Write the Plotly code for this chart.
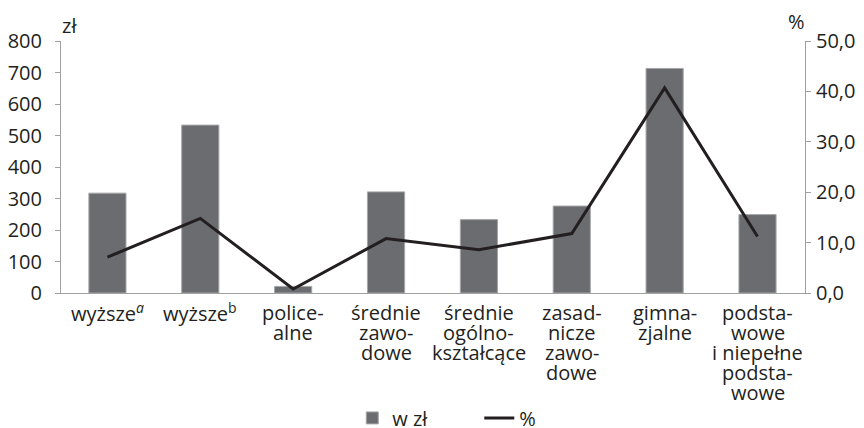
import plotly.graph_objects as go

categories = ["wyższe a", "wyższe b", "policealne", "średnie zawodowe",
              "średnie ogólnokształcące", "zasadnicze zawodowe", "gimnazjalne",
              "podstawowe i niepełne podstawowe"]
category_labels = [
    ["wyższe<sup><i>a</i></sup>"],
    ["wyższe<sup>b</sup>"],
    ["police-", "alne"],
    ["średnie", "zawo-", "dowe"],
    ["średnie", "ogólno-", "kształcące"],
    ["zasad-", "nicze", "zawo-", "dowe"],
    ["gimna-", "zjalne"],
    ["podsta-", "wowe", "i niepełne", "podsta-", "wowe"],
]
values_zl = [317, 533, 21, 321, 233, 276, 713, 249]
values_pct = [7.1, 14.8, 0.8, 10.8, 8.6, 11.8, 40.7, 11.2]

FONT = "Open Sans"
TXT = "#231f20"
AX = "#a0a0a0"

fig = go.Figure()
fig.add_trace(go.Bar(
    x=categories, y=values_zl, name="w zł",
    marker=dict(color="#6b6c70", line=dict(color="#a6a6a8", width=1)),
    width=0.4, yaxis="y",
))
fig.add_trace(go.Scatter(
    x=categories, y=values_pct, name="%", mode="lines",
    line=dict(color=TXT, width=3), yaxis="y2",
))

annotations = []
for cat, lines in zip(categories, category_labels):
    for i, ln in enumerate(lines):
        annotations.append(dict(
            text=ln, x=cat, xref="x", y=0, yref="paper",
            xanchor="center", yanchor="middle", yshift=-(19 + 20 * i),
            showarrow=False, font=dict(size=20, color=TXT),
        ))
annotations.append(dict(text="zł", xref="paper", yref="paper", x=0, y=1,
                        xanchor="left", yanchor="middle", yshift=16, xshift=-1,
                        showarrow=False, font=dict(size=20, color=TXT)))
annotations.append(dict(text="%", xref="paper", yref="paper", x=1, y=1,
                        xanchor="right", yanchor="middle", yshift=20, xshift=2,
                        showarrow=False, font=dict(size=20, color=TXT)))

# the page adds an 8px body margin, so the figure is sized to the visible area
fig.update_layout(
    width=856, height=420,
    margin=dict(l=53, r=59, t=33, b=135, autoexpand=False),
    paper_bgcolor="white", plot_bgcolor="white",
    separators=", ",
    font=dict(family=FONT, size=20, color=TXT),
    showlegend=True,
    legend=dict(orientation="h", x=0.3915, xanchor="left",
                y=0.024, yref="container", yanchor="middle",
                font=dict(size=20), itemwidth=30, tracegroupgap=0,
                entrywidth=82, entrywidthmode="pixels",
                bgcolor="rgba(0,0,0,0)"),
    xaxis=dict(showline=True, linecolor=AX, linewidth=1, ticks="",
               showticklabels=False, showgrid=False, automargin=False),
    yaxis=dict(range=[0, 800], dtick=100, showline=True, linecolor=AX,
               linewidth=1, ticks="outside", ticklen=5, tickcolor=AX,
               showgrid=False, zeroline=False, tickfont=dict(size=20),
               automargin=False, ticklabelstandoff=9),
    yaxis2=dict(range=[0, 50], dtick=10, tickformat=".1f", overlaying="y", side="right",
                showline=True, linecolor=AX, linewidth=1, ticks="outside",
                ticklen=5, tickcolor=AX, showgrid=False, zeroline=False,
                tickfont=dict(size=20), automargin=False, ticklabelstandoff=1),
    bargap=0.6,
    annotations=annotations,
)

fig.write_html("out.html")
